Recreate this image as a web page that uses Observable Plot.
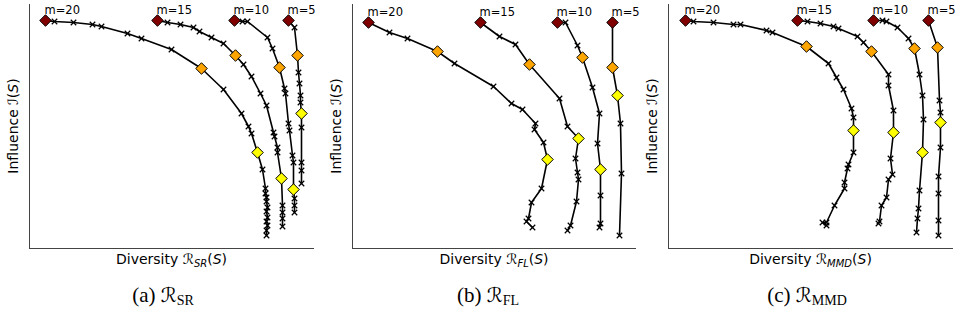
<!DOCTYPE html>
<html>
<head>
<meta charset="utf-8">
<script src="https://cdn.jsdelivr.net/npm/d3@7"></script>
<script src="https://cdn.jsdelivr.net/npm/@observablehq/plot@0.6"></script>
<style>
  body { margin: 0; background: #fff; }
  #wrap { position: relative; width: 955px; height: 320px; overflow: hidden; }
  .panel { position: absolute; top: 0; }
  .cap { position: absolute; top: 283px; transform: translateX(-50%); font-family: "Liberation Serif", serif; font-size: 21px; color: #000; white-space: nowrap; }
  .cap .cal { font-family: "DejaVu Serif", "DejaVu Sans", serif; font-style: italic; font-size: 20px; }
  .cap sub { font-size: 14px; vertical-align: -3px; }
</style>
</head>
<body>
<div id="wrap"></div>
<script>
// Budget sizes per series (m values)
const mValues = [20, 15, 10, 5];

// Panel (a) R_SR : [diversity, influence] points along each curve
const SR_m20 = [[16,228],[25,227],[44,226],[63,224],[72,222],[98,215],[112,210],[142,199],[172,180],[194,159],[212,135],[219,122],[222,115],[228,96],[233,79],[236,60],[236,55],[237,51],[237,47],[238,41],[237,37],[238,31],[237,27],[238,23],[237,18],[237,13]];
const SR_m15 = [[128,228],[138,226],[151,224],[164,221],[170,217],[182,211],[194,205],[206,193],[214,184],[222,172],[231,155],[237,143],[244,116],[245,112],[248,101],[248,96],[252,70],[253,43],[253,36],[253,30],[253,22]];
const SR_m10 = [[205,228],[213,227],[218,227],[238,211],[243,200],[250,181],[255,160],[256,155],[259,125],[260,118],[263,93],[264,86],[264,59],[265,50],[265,43],[265,36]];
const SR_m5  = [[259,228],[265,221],[268,193],[269,176],[270,165],[271,153],[271,146],[272,135],[272,121],[272,86],[272,78],[272,65]];
const SR_keys = [[0,8,13],[0,7,16],[0,5,12],[0,2,7]];

// Panel (b) R_FL
const FL_m20 = [[16,226],[37,216],[55,210],[85,197],[102,185],[141,162],[159,145],[170,139],[183,125],[182,119],[191,106],[195,89],[189,60],[179,46],[176,30],[174,27],[180,21]];
const FL_m15 = [[128,226],[147,212],[163,204],[177,184],[207,150],[215,122],[226,110],[223,90],[225,76],[226,69],[224,47],[218,23],[215,18]];
const FL_m10 = [[205,226],[213,226],[225,203],[230,191],[240,161],[247,135],[245,105],[248,79],[248,53],[248,25],[247,21]];
const FL_m5  = [[260,226],[260,181],[265,153],[268,125],[269,75],[267,13]];
const FL_keys = [[0,3,11],[0,3,6],[0,3,7],[0,1,2]];

// Panel (c) R_MMD
const MMD_m20 = [[17,228],[25,227],[45,226],[65,224],[72,224],[98,218],[104,216],[138,202],[160,185],[168,171],[175,159],[183,140],[185,131],[185,118],[185,96],[180,84],[179,80],[176,66],[176,60],[166,43],[158,26],[154,26],[158,23]];
const MMD_m15 = [[129,228],[139,227],[152,225],[165,222],[170,220],[189,212],[195,206],[203,197],[220,174],[220,163],[225,138],[225,116],[222,90],[224,74],[220,69],[218,51],[213,43],[211,27],[210,25]];
const MMD_m10 = [[205,228],[214,228],[218,227],[229,221],[240,210],[246,200],[251,174],[254,153],[255,129],[254,96],[251,58],[250,40],[249,30],[248,16]];
const MMD_m5  = [[260,228],[269,201],[271,148],[272,136],[272,126],[272,101],[270,72],[270,55],[270,28],[270,13]];
const MMD_keys = [[0,7,13],[0,7,11],[0,5,9],[0,1,4]];

const keyColors = ["#800000", "#ffa500", "#ffff00"];
const subs = ["SR", "FL", "MMD"];
const letters = ["a", "b", "c"];

const panels = [
  {series: [SR_m20, SR_m15, SR_m10, SR_m5], keys: SR_keys, left: 0, width: 318, ml: 29, mr: 4, cap: 163},
  {series: [FL_m20, FL_m15, FL_m10, FL_m5], keys: FL_keys, left: 322, width: 318, ml: 30, mr: 4, cap: 488},
  {series: [MMD_m20, MMD_m15, MMD_m10, MMD_m5], keys: MMD_keys, left: 638, width: 317, ml: 30, mr: 2, cap: 807}
];

const wrap = document.getElementById("wrap");
const H = 270, MT = 4, MB = 22;

panels.forEach((p, pi) => {
  const pts = [], dia = [], labs = [];
  p.series.forEach((s, i) => {
    const m = mValues[i];
    s.forEach(([x, y]) => pts.push({m, x, y}));
    p.keys[i].forEach((k, c) => dia.push({x: s[k][0], y: s[k][1], c: keyColors[c]}));
    labs.push({x: s[0][0], y: s[0][1], t: "m=" + m});
  });
  const xMax = p.width - p.ml - p.mr;
  const chart = Plot.plot({
    width: p.width, height: H,
    marginLeft: p.ml, marginRight: p.mr, marginTop: MT, marginBottom: MB,
    x: {domain: [0, xMax], axis: null},
    y: {domain: [0, H - MT - MB], axis: null},
    color: {type: "identity"},
    style: {background: "transparent", overflow: "visible"},
    marks: [
      Plot.ruleX([0], {stroke: "#444", strokeWidth: 1}),
      Plot.ruleY([0], {stroke: "#444", strokeWidth: 1}),
      Plot.line(pts, {x: "x", y: "y", z: "m", stroke: "#000", strokeWidth: 1.6}),
      Plot.dot(pts, {x: "x", y: "y", symbol: "times", r: 2.6, stroke: "#000", strokeWidth: 1.2}),
      Plot.dot(dia, {x: "x", y: "y", symbol: "diamond2", r: 5.2, fill: "c", stroke: "#000", strokeWidth: 1}),
      Plot.text(labs, {x: "x", y: "y", text: "t", textAnchor: "start", dy: -10, dx: -1, fontSize: 11.5, fontFamily: "DejaVu Sans", fill: "#000"})
    ]
  });
  chart.classList.add("panel");
  chart.style.left = p.left + "px";
  chart.style.position = "absolute";
  wrap.appendChild(chart);

  const svg = d3.select(chart);
  // x-axis label
  const cx = p.ml + xMax / 2;
  const xl = svg.append("text")
    .attr("x", cx).attr("y", 264)
    .attr("text-anchor", "middle")
    .attr("font-family", "DejaVu Sans").attr("font-size", 14).attr("fill", "#000");
  xl.append("tspan").text("Diversity ");
  xl.append("tspan").attr("font-style", "italic").text("ℛ");
  xl.append("tspan").attr("font-size", 10).attr("font-style", "italic").attr("dy", 3).text(subs[pi]);
  xl.append("tspan").attr("dy", -3).text("(");
  xl.append("tspan").attr("font-style", "italic").text("S");
  xl.append("tspan").text(")");
  // y-axis label
  const cy = MT + (H - MT - MB) / 2;
  const yl = svg.append("text")
    .attr("transform", `translate(${p.ml - 11},${cy}) rotate(-90)`)
    .attr("text-anchor", "middle")
    .attr("font-family", "DejaVu Sans").attr("font-size", 14).attr("fill", "#000");
  yl.append("tspan").text("Influence ");
  yl.append("tspan").attr("font-style", "italic").text("ℐ");
  yl.append("tspan").text("(");
  yl.append("tspan").attr("font-style", "italic").text("S");
  yl.append("tspan").text(")");

  const cap = document.createElement("div");
  cap.className = "cap";
  cap.style.left = p.cap + "px";
  cap.innerHTML = `(${letters[pi]}) <span class="cal">ℛ</span><sub>${subs[pi]}</sub>`;
  wrap.appendChild(cap);
});
</script>
</body>
</html>
